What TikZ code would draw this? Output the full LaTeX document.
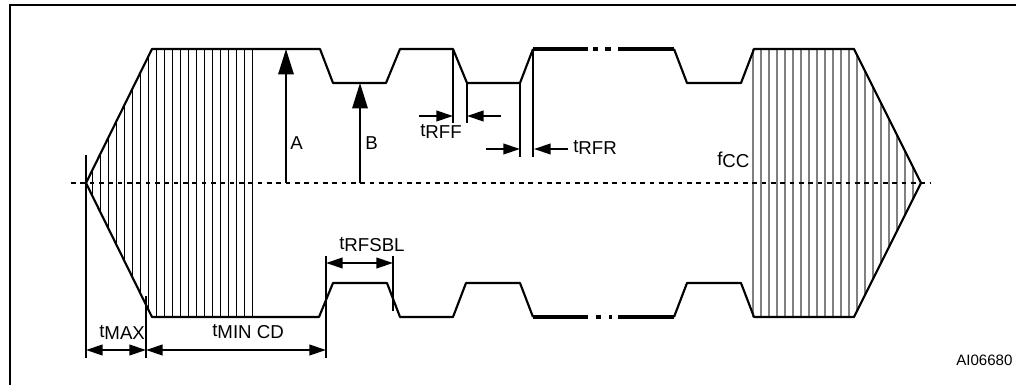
\documentclass[tikz,border=0pt]{standalone}
\usepackage{fontspec}
\setmainfont{Liberation Sans}
\usetikzlibrary{arrows.meta,positioning}

\newcommand{\lowcaps}[2]{#1\raisebox{-1.5pt}{#2}}

\begin{document}
\begin{tikzpicture}[x=0.75pt,y=-0.75pt]
  \tikzstyle{frame}=[line width=1.8pt]
  \tikzstyle{wave}=[line width=1.6pt,line join=round]
  \tikzstyle{wavebold}=[line width=2.5pt]
  \tikzstyle{hatch}=[line width=0.55pt]
  \tikzstyle{tick}=[line width=1.4pt]
  \tikzstyle{dim}=[line width=1.4pt,{Triangle[length=12.5pt,width=8pt]}-{Triangle[length=12.5pt,width=8pt]}]
  \tikzstyle{dimin}=[line width=1.4pt,-{Triangle[length=12.5pt,width=8pt]}]
  \tikzstyle{ampl}=[line width=1.5pt,-{Triangle[length=19pt,width=11.5pt]}]
  \tikzstyle{lbl}=[anchor=west,inner sep=0pt,font=\fontsize{14}{14}\selectfont]
  \useasboundingbox (0,0) rectangle (1016,385);

  \draw[frame] (1016,5) -- (10,5) -- (10,385);

  \coordinate (apexL) at (86,183);
  \coordinate (apexR) at (921,183);

  % hatching
  \begin{scope}
    \clip (apexL) -- (152,49) -- (254,49) -- (254,317) -- (152,317) -- cycle;
    \foreach \x in {92,100,...,252} {
      \draw[hatch] (\x,0) -- (\x,385);
    }
  \end{scope}
  \begin{scope}
    \clip (apexR) -- (854,49) -- (750,49) -- (750,317) -- (854,317) -- cycle;
    \foreach \x in {753,761,...,913} {
      \draw[hatch,black!50,line width=0.8pt] (\x,0) -- (\x,385);
    }
  \end{scope}

  % centre line
  \coordinate (cl) at (71,183);
  \coordinate (cr) at (930,183);
  \draw[line width=1.2pt,dash pattern=on 3.6pt off 3.4pt] (cl) -- (cr);

  % envelope, top
  \draw[wave] (apexL) -- (152,49) -- (320,49) -- (333,83) -- (386,83) -- (400,49) -- (453,49)
    -- (467,83) -- (520,83) -- (533,49);
  \draw[wavebold] (533,49) -- (588,49) (593,49) -- (598,49) (605,49) -- (611,49) (618,49) -- (674,49);
  \draw[wave] (674,49) -- (687,83) -- (741,83) -- (754,49) -- (854,49) -- (apexR);

  % envelope, bottom
  \draw[wave] (apexL) -- (152,317) -- (319,317) -- (333,283) -- (387,283) -- (400,317) -- (453,317)
    -- (466,283) -- (520,283) -- (533,317);
  \draw[wavebold] (533,317) -- (588,317) (596,317) -- (601,317) (609,317) -- (612,317) (618,317) -- (674,317);
  \draw[wave] (674,317) -- (687,283) -- (741,283) -- (754,317) -- (854,317) -- (apexR);

  % amplitudes
  \coordinate (a0) at (286,183);
  \coordinate (a1) at (286,49);
  \coordinate (b0) at (360,183);
  \coordinate (b1) at (360,83);
  \draw[ampl] (a0) -- (a1);
  \draw[ampl] (b0) -- (b1);
  \node[lbl] (labA) at (290,143) {A};
  \node[lbl] (labB) at (365,143) {B};

  % ticks at the bottom
  \coordinate (t1a) at (86,155);
  \coordinate (t1b) at (86,358);
  \coordinate (t2a) at (146,296);
  \coordinate (t2b) at (146,358);
  \coordinate (t3a) at (326,256);
  \coordinate (t3b) at (326,358);
  \coordinate (t4a) at (393,256);
  \coordinate (t4b) at (393,311);
  \draw[tick] (t1a) -- (t1b);
  \draw[tick] (t2a) -- (t2b);
  \draw[tick] (t3a) -- (t3b);
  \draw[tick] (t4a) -- (t4b);

  \coordinate (d1) at (86,350);
  \coordinate (d2) at (146,350);
  \coordinate (d3) at (326,350);
  \coordinate (d4) at (326,263);
  \coordinate (d5) at (393,263);
  \draw[dim] (d1) -- (d2);
  \draw[dim] (d2) -- (d3);
  \draw[dim] (d4) -- (d5);
  \node[lbl] (labMax) at (99,332) {\lowcaps{t}{MAX}};
  \node[lbl] (labMin) at (212,332) {\lowcaps{t}{MIN CD}};
  \node[lbl] (labSbl) at (339,245) {\lowcaps{t}{RFSBL}};

  % fall and rise times
  \coordinate (f1a) at (453,49);
  \coordinate (f1b) at (453,123);
  \coordinate (f2a) at (467,83);
  \coordinate (f2b) at (467,123);
  \coordinate (r1a) at (520,83);
  \coordinate (r1b) at (520,157);
  \coordinate (r2a) at (533,49);
  \coordinate (r2b) at (533,157);
  \draw[tick] (f1a) -- (f1b);
  \draw[tick] (f2a) -- (f2b);
  \draw[tick] (r1a) -- (r1b);
  \draw[tick] (r2a) -- (r2b);

  \coordinate (ff1) at (419,116);
  \coordinate (ff2) at (453,116);
  \coordinate (ff3) at (501,116);
  \coordinate (ff4) at (467,116);
  \coordinate (rr1) at (486,149);
  \coordinate (rr2) at (520,149);
  \coordinate (rr3) at (568,149);
  \coordinate (rr4) at (534,149);
  \draw[dimin] (ff1) -- (ff2);
  \draw[dimin] (ff3) -- (ff4);
  \draw[dimin] (rr1) -- (rr2);
  \draw[dimin] (rr3) -- (rr4);
  \node[lbl] (labRff) at (420,131) {\lowcaps{t}{RFF}};
  \node[lbl] (labRfr) at (573,147) {\lowcaps{t}{RFR}};

  \node[lbl] (labFcc) at (717,160) {\lowcaps{f}{CC}};
  \node[lbl,font=\fontsize{11.3}{11.3}\selectfont] (labId) at (956,360) {AI06680};
\end{tikzpicture}
\end{document}
